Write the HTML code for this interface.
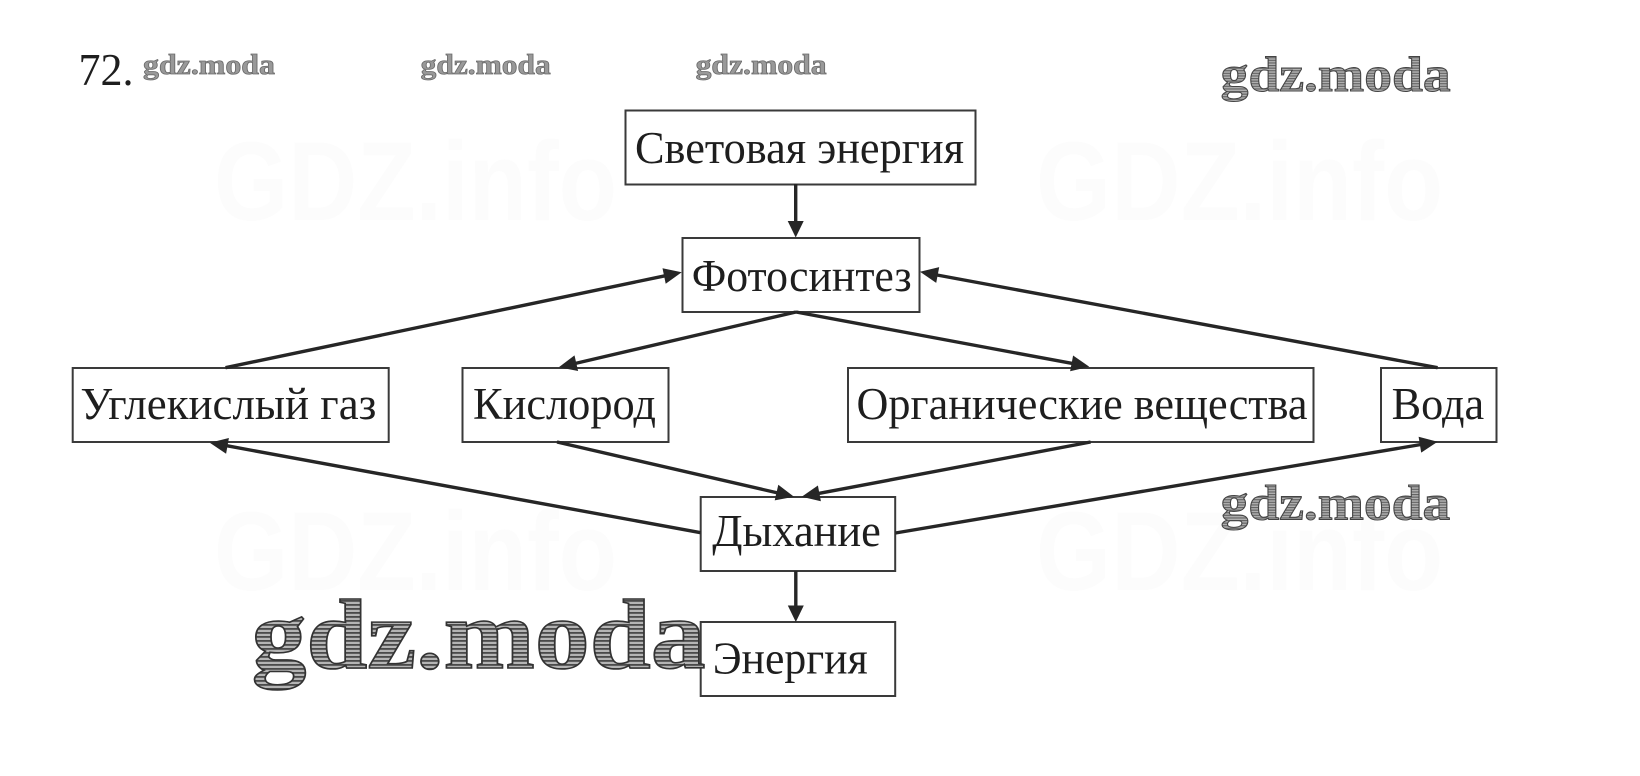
<!DOCTYPE html>
<html lang="ru">
<head>
<meta charset="utf-8">
<title>72</title>
<style>
html,body{margin:0;padding:0;background:#fff;}
body{width:1640px;height:776px;overflow:hidden;}
svg{display:block;}
.t{font-family:"Liberation Serif","Noto Serif CJK SC",serif;font-size:45px;fill:#1e1e1e;}
.b{fill:#fff;stroke:#3a3a3a;stroke-width:2;}
.l{stroke:#262626;stroke-width:3.4;fill:none;}
.h{fill:#262626;}
.f{font-family:"Liberation Sans",sans-serif;font-weight:bold;font-size:112px;fill:#fcfcfc;}
.w{font-family:"Liberation Serif",serif;font-weight:bold;}
</style>
</head>
<body>
<svg width="1640" height="776" viewBox="0 0 1640 776" xmlns="http://www.w3.org/2000/svg">
<defs>
<pattern id="hs" width="6" height="4" patternUnits="userSpaceOnUse">
<rect width="6" height="4" fill="#b4b4b4"/>
<rect y="0" width="6" height="1.8" fill="#4a4a4a"/>
</pattern>
<pattern id="hm" width="4" height="2.6" patternUnits="userSpaceOnUse">
<rect width="4" height="2.6" fill="#b0b0b0"/>
<rect width="4" height="1.1" fill="#606060"/>
</pattern>
</defs>
<rect width="1640" height="776" fill="#fff"/>

<text class="f" x="214" y="220" textLength="403" lengthAdjust="spacingAndGlyphs">GDZ.info</text>
<text class="f" x="1036" y="220" textLength="407" lengthAdjust="spacingAndGlyphs">GDZ.info</text>
<text class="f" x="214" y="590" textLength="403" lengthAdjust="spacingAndGlyphs">GDZ.info</text>
<text class="f" x="1036" y="590" textLength="407" lengthAdjust="spacingAndGlyphs">GDZ.info</text>

<text class="t" style="font-size:46px" x="78.5" y="85" textLength="55" lengthAdjust="spacingAndGlyphs">72.</text>

<rect class="b" x="625.5" y="110.5" width="350" height="74"/>
<rect class="b" x="682.5" y="238" width="237" height="74"/>
<rect class="b" x="72.7" y="368" width="316" height="74"/>
<rect class="b" x="462.5" y="368" width="206" height="74"/>
<rect class="b" x="848" y="368" width="465.5" height="74"/>
<rect class="b" x="1381" y="368" width="115.5" height="74"/>
<rect class="b" x="700.7" y="497" width="194.5" height="74"/>
<rect class="b" x="700.7" y="622" width="194.5" height="74"/>

<text class="t" x="635" y="163" textLength="329" lengthAdjust="spacingAndGlyphs">Световая энергия</text>
<text class="t" x="691.7" y="291" textLength="220" lengthAdjust="spacingAndGlyphs">Фотосинтез</text>
<text class="t" x="80.4" y="419" textLength="296" lengthAdjust="spacingAndGlyphs">Углекислый газ</text>
<text class="t" x="473" y="419" textLength="183" lengthAdjust="spacingAndGlyphs">Кислород</text>
<text class="t" x="856.5" y="419" textLength="451" lengthAdjust="spacingAndGlyphs">Органические вещества</text>
<text class="t" x="1391.6" y="419" textLength="92.5" lengthAdjust="spacingAndGlyphs">Вода</text>
<text class="t" x="712.3" y="546" textLength="168.5" lengthAdjust="spacingAndGlyphs">Дыхание</text>
<text class="t" x="712.7" y="673.7" textLength="155" lengthAdjust="spacingAndGlyphs">Энергия</text>

<line class="l" x1="795.7" y1="184" x2="795.7" y2="224"/>
<polygon class="h" points="795.7,237.5 787.7,221 803.7,221"/>

<line class="l" x1="225.5" y1="367.7" x2="665" y2="275.8"/>
<polygon class="h" points="681.7,272.3 665.7,283.8 662.5,268.2"/>

<line class="l" x1="1437.6" y1="367.7" x2="937" y2="275"/>
<polygon class="h" points="920,271.7 939.2,267.1 936.2,282.9"/>

<line class="l" x1="796" y1="312" x2="575" y2="363.5"/>
<polygon class="h" points="558.8,367.3 578.1,371 574.5,355.4"/>

<line class="l" x1="796" y1="312" x2="1073" y2="363.6"/>
<polygon class="h" points="1089.3,366.7 1070.1,371.3 1073.1,355.5"/>

<line class="l" x1="557" y1="442" x2="778" y2="493"/>
<polygon class="h" points="794,496.7 774.7,500.4 778.3,484.8"/>

<line class="l" x1="1090.6" y1="442" x2="818" y2="493.6"/>
<polygon class="h" points="801.7,496.7 820.9,501.3 817.9,485.5"/>

<line class="l" x1="700.7" y1="532.7" x2="226" y2="445.6"/>
<polygon class="h" points="209.8,442.7 228.9,438 226.1,453.8"/>

<line class="l" x1="895.4" y1="533" x2="1421" y2="444.5"/>
<polygon class="h" points="1437.6,441.7 1421.2,452.6 1418.6,436.8"/>

<line class="l" x1="795.8" y1="571" x2="795.8" y2="608"/>
<polygon class="h" points="795.8,622 787.8,605.5 803.8,605.5"/>

<g class="w" stroke="#6a6a6a" stroke-width="0.8" fill="#999">
<text x="143" y="74" font-size="29" textLength="132" lengthAdjust="spacingAndGlyphs">gdz.moda</text>
<text x="420.7" y="74" font-size="29" textLength="130" lengthAdjust="spacingAndGlyphs">gdz.moda</text>
<text x="695.6" y="74" font-size="29" textLength="131" lengthAdjust="spacingAndGlyphs">gdz.moda</text>
</g>
<g class="w" stroke="#444" stroke-width="1" fill="url(#hm)">
<text x="1220.7" y="91" font-size="50" textLength="230" lengthAdjust="spacingAndGlyphs">gdz.moda</text>
<text x="1220.7" y="519.5" font-size="50" textLength="229.5" lengthAdjust="spacingAndGlyphs">gdz.moda</text>
</g>
<text class="w" x="251.6" y="668" font-size="100" textLength="454" lengthAdjust="spacingAndGlyphs" stroke="#333" stroke-width="1.6" fill="url(#hs)">gdz.moda</text>
</svg>
</body>
</html>
